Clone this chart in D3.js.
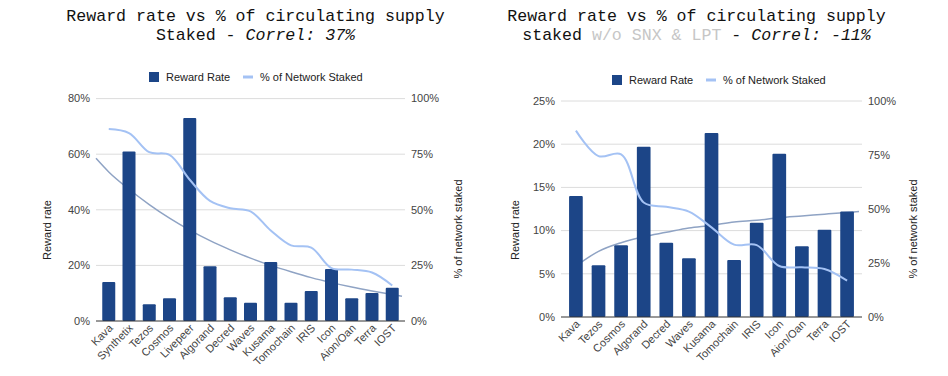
<!DOCTYPE html>
<html>
<head>
<meta charset="utf-8">
<script src="https://cdn.jsdelivr.net/npm/d3@7"></script>
<style>
  body { margin: 0; background: #fff; }
  svg text { font-family: "Liberation Sans", Arial, sans-serif; }
  .title { font-family: "Liberation Mono", "DejaVu Sans Mono", monospace; font-size: 16.6px; fill: #111; }
  .tick { font-size: 11px; fill: #444; }
  .lbl { font-size: 11px; fill: #222; }
</style>
</head>
<body>
<svg id="chart" width="948" height="376"></svg>
<script>
// left chart: all coins
var leftCoins = ['Kava', 'Synthetix', 'Tezos', 'Cosmos', 'Livepeer', 'Algorand', 'Decred', 'Waves',
  'Kusama', 'Tomochain', 'IRIS', 'Icon', 'Aion/Oan', 'Terra', 'IOST']
var leftReward = [14, 61, 6, 8.2, 73, 19.7, 8.5, 6.6, 21.2, 6.6, 10.8, 18.7, 8.2, 10.1, 12]
var leftStaked = [86.3, 84.5, 75.9, 74.7, 63.5, 54, 50.7, 49.3, 40.7, 34, 33, 23.8, 23.1, 21.8, 16]
var leftTrend = [53.6, 47.4, 41.9, 37.0, 32.7, 28.9, 25.6, 22.6, 20.0, 17.7, 15.6, 13.8, 12.2, 10.8, 9.5]
var leftTrendStart = 58.5
var leftTrendEnd = 8.9
var leftRewardTicks = [0, 20, 40, 60, 80]
var leftStakedTicks = [0, 25, 50, 75, 100]

// right chart: without SNX & LPT
var rightCoins = ['Kava', 'Tezos', 'Cosmos', 'Algorand', 'Decred', 'Waves', 'Kusama', 'Tomochain',
  'IRIS', 'Icon', 'Aion/Oan', 'Terra', 'IOST']
var rightReward = [14, 6, 8.3, 19.7, 8.6, 6.8, 21.3, 6.6, 10.9, 18.9, 8.2, 10.1, 12.2]
var rightStaked = [86.3, 74.5, 75.3, 53, 51, 48.8, 41.5, 33.5, 33.3, 23.6, 23, 22.2, 16.8]
var rightTrend = [5.9, 7.6, 8.6, 9.3, 9.8, 10.3, 10.6, 11.0, 11.2, 11.5, 11.7, 11.9, 12.1]
var rightTrendEnd = 12.2
var rightRewardTicks = [0, 5, 10, 15, 20, 25]
var rightStakedTicks = [0, 25, 50, 75, 100]

var barColor = '#1c4587'
var stakedColor = '#a4c2f4'
var trendColor = '#8fa3c4'

var svg = d3.select('#chart')

function drawChart(o) {
  var g = svg.append('g')

  var x = d3.scaleBand()
    .domain(o.coins)
    .range([o.x0, o.x1])
    .paddingInner(o.padInner)
    .paddingOuter(o.padOuter)

  var y = d3.scaleLinear().domain([0, o.rewardTicks[o.rewardTicks.length - 1]]).range([o.yBase, o.yTop])
  var y2 = d3.scaleLinear().domain([0, 100]).range([o.yBase, o.yTop])

  var cx = function (i) { return x(o.coins[i]) + x.bandwidth() / 2 }

  // gridlines
  g.selectAll('.grid')
      .data(o.rewardTicks.slice(1))
    .enter().append('line')
      .attr('x1', o.x0)
      .attr('x2', o.x1)
      .attr('y1', function (d) { return y(d) })
      .attr('y2', function (d) { return y(d) })
      .attr('stroke', '#dcdcdc')
      .attr('stroke-width', 1)

  // trendline (sits under the bars)
  var trendPts = o.trend.map(function (v, i) { return [cx(i), y(v)] })
  if (o.trendStart != null) trendPts.unshift([o.x0, y(o.trendStart)])
  if (o.trendEnd != null) trendPts.push([o.x1 - 3, y(o.trendEnd)])
  g.append('path')
    .attr('d', d3.line().curve(d3.curveMonotoneX)(trendPts))
    .attr('fill', 'none')
    .attr('stroke', trendColor)
    .attr('stroke-width', 1.5)

  // bars
  g.selectAll('.bar')
      .data(o.reward)
    .enter().append('rect')
      .attr('x', function (d, i) { return x(o.coins[i]) })
      .attr('y', function (d) { return y(d) })
      .attr('width', x.bandwidth())
      .attr('height', function (d) { return o.yBase - y(d) })
      .attr('rx', 1)
      .attr('fill', barColor)

  // baseline
  g.append('line')
    .attr('x1', o.x0)
    .attr('x2', o.x1)
    .attr('y1', o.yBase)
    .attr('y2', o.yBase)
    .attr('stroke', '#333')
    .attr('stroke-width', 1)

  // staked line
  g.append('path')
    .attr('d', d3.line()
      .x(function (d, i) { return cx(i) })
      .y(function (d) { return y2(d) })
      .curve(d3.curveCatmullRom.alpha(0.5))(o.staked))
    .attr('fill', 'none')
    .attr('stroke', stakedColor)
    .attr('stroke-width', 2)

  // left axis labels
  g.selectAll('.ly')
      .data(o.rewardTicks)
    .enter().append('text')
      .attr('class', 'tick')
      .attr('x', o.x0 - 6)
      .attr('y', function (d) { return y(d) })
      .attr('dy', '0.35em')
      .attr('text-anchor', 'end')
      .text(function (d) { return d + '%' })

  // right axis labels
  g.selectAll('.ry')
      .data(o.stakedTicks)
    .enter().append('text')
      .attr('class', 'tick')
      .attr('x', o.x1 + 6)
      .attr('y', function (d) { return y2(d) })
      .attr('dy', '0.35em')
      .text(function (d) { return d + '%' })

  // category labels
  g.selectAll('.cx')
      .data(o.coins)
    .enter().append('text')
      .attr('class', 'tick')
      .attr('transform', function (d, i) { return 'translate(' + (cx(i) + 2) + ',' + (o.yBase + 5) + ') rotate(-45)' })
      .attr('dy', '0.35em')
      .attr('text-anchor', 'end')
      .text(function (d) { return d })

  // axis titles
  g.append('text')
    .attr('class', 'lbl')
    .attr('transform', 'translate(' + o.leftTitleX + ',230) rotate(-90)')
    .attr('dy', '0.35em')
    .attr('text-anchor', 'middle')
    .text('Reward rate')

  g.append('text')
    .attr('class', 'lbl')
    .attr('transform', 'translate(' + o.rightTitleX + ',229) rotate(-90)')
    .attr('dy', '0.35em')
    .attr('text-anchor', 'middle')
    .text('% of network staked')

  // legend
  var lg = g.append('g').attr('transform', 'translate(' + o.legendX + ',' + o.legendY + ')')
  lg.append('rect')
    .attr('x', 0).attr('y', -5)
    .attr('width', 10).attr('height', 10)
    .attr('fill', barColor)
  lg.append('text')
    .attr('class', 'lbl')
    .attr('x', 17).attr('dy', '0.35em')
    .text('Reward Rate')
  lg.append('line')
    .attr('x1', 94).attr('x2', 104)
    .attr('y1', 0).attr('y2', 0)
    .attr('stroke', stakedColor)
    .attr('stroke-width', 3)
  lg.append('text')
    .attr('class', 'lbl')
    .attr('x', 111).attr('dy', '0.35em')
    .text('% of Network Staked')

  // title
  var t = g.append('text')
    .attr('class', 'title')
    .attr('text-anchor', 'middle')
  t.append('tspan')
    .attr('x', o.titleX).attr('y', 20.5)
    .text('Reward rate vs % of circulating supply')
  var l2 = t.append('tspan').attr('x', o.titleX).attr('y', 39.5)
  o.subtitle.forEach(function (s) {
    var ts = l2.append('tspan').text(s.text)
    if (s.gray) ts.attr('fill', '#c6c6c6')
    if (s.italic) ts.attr('font-style', 'italic')
    l2 = t
  })
  // keep following pieces on the same line
  t.selectAll('tspan').filter(function (d, i) { return i > 1 }).attr('x', null).attr('y', null)
}

drawChart({
  coins: leftCoins, reward: leftReward, staked: leftStaked,
  trend: leftTrend, trendStart: leftTrendStart, trendEnd: leftTrendEnd,
  rewardTicks: leftRewardTicks, stakedTicks: leftStakedTicks,
  x0: 96, x1: 405, yBase: 321, yTop: 98.6,
  padInner: 0.358, padOuter: 0.309,
  leftTitleX: 47, rightTitleX: 458,
  legendX: 149, legendY: 77,
  titleX: 255.5,
  subtitle: [{ text: 'Staked - ' }, { text: 'Correl: 37%', italic: true }]
})

drawChart({
  coins: rightCoins, reward: rightReward, staked: rightStaked,
  trend: rightTrend, trendStart: null, trendEnd: rightTrendEnd,
  rewardTicks: rightRewardTicks, stakedTicks: rightStakedTicks,
  x0: 561, x1: 862, yBase: 317, yTop: 101,
  padInner: 0.394, padOuter: 0.357,
  leftTitleX: 515, rightTitleX: 913,
  legendX: 612, legendY: 80,
  titleX: 696.5,
  subtitle: [{ text: 'staked ' }, { text: 'w/o SNX & LPT', gray: true }, { text: ' - ' }, { text: 'Correl: -11%', italic: true }]
})
</script>
</body>
</html>
